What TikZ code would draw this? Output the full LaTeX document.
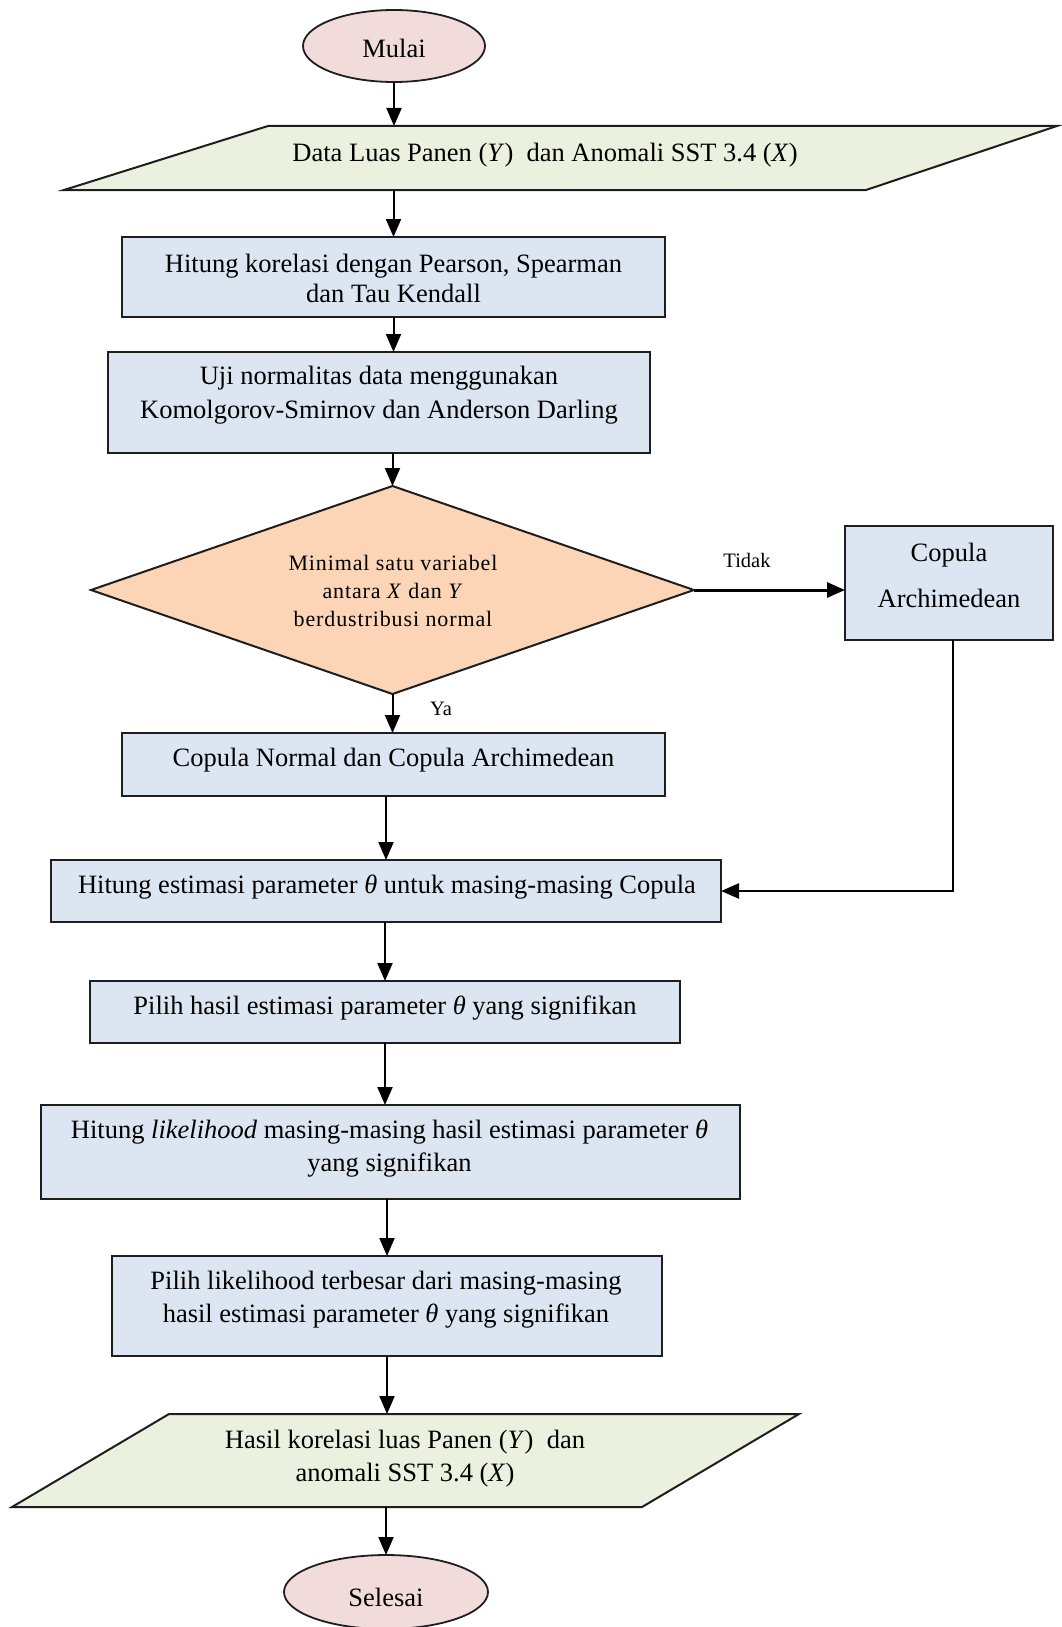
\documentclass[tikz,border=0pt]{standalone}
\usepackage{fontspec}
\setmainfont{Liberation Serif}
\newfontfamily\difont[LetterSpace=4]{Liberation Serif}
\usetikzlibrary{arrows.meta,shapes.geometric}

\definecolor{pinkfill}{HTML}{F2DCDB}
\definecolor{greenfill}{HTML}{EBF1DE}
\definecolor{bluefill}{HTML}{DCE6F2}
\definecolor{peachfill}{HTML}{FBD5B5}
\definecolor{edgec}{HTML}{1E1E1E}

\begin{document}
\begin{tikzpicture}[x=1pt,y=-1pt,
  every node/.style={inner sep=0pt, outer sep=0pt},
  box/.style={draw=edgec, line width=2pt, fill=bluefill, rectangle},
  term/.style={draw=edgec, line width=1.8pt, fill=pinkfill, ellipse},
  iobox/.style={draw=edgec, line width=2pt, fill=greenfill, line join=miter},
  decbox/.style={draw=edgec, line width=2pt, fill=peachfill, line join=miter},
  ghost/.style={rectangle, draw=none},
  txt/.style={font=\fontsize{26.5}{33}\selectfont, align=center},
  smalltxt/.style={font=\difont\fontsize{22}{28}\selectfont, align=center},
  lbl/.style={font=\fontsize{20.5}{24}\selectfont},
  arr/.style={draw=black, line width=2pt, -{Triangle[length=18pt,width=15pt]}},
]
\useasboundingbox (0,0) rectangle (1062,1627);

% start
\node[term, minimum width=182pt, minimum height=72pt] (start) at (394,46) {};
\node[txt] (tstart) at (394,48) {Mulai};

% input parallelogram
\node[ghost, minimum width=600pt, minimum height=64pt] (in1) at (560,158) {};
\draw[iobox] (268,126) -- (1057,126) -- (866,190) -- (64,190) -- cycle;
\node[txt] (tin1) at (545,155) {Data Luas Panen (\textit{Y})\ \ dan Anomali SST 3.4 (\textit{X})};

% korelasi
\node[box, minimum width=543pt, minimum height=80pt] (b1) at (393.5,277) {};
\node[txt, font=\fontsize{26.5}{30}\selectfont] (tb1) at (393.5,278) {Hitung korelasi dengan Pearson, Spearman\\dan Tau Kendall};

% uji normalitas
\node[box, minimum width=542pt, minimum height=101pt] (b2) at (379,402.5) {};
\node[txt, font=\fontsize{26.5}{34}\selectfont] (tb2) at (379,395) {Uji normalitas data menggunakan\\Komolgorov-Smirnov dan Anderson Darling};

% decision
\node[ghost, minimum width=603pt, minimum height=208pt] (dec) at (392.5,590) {};
\draw[decbox] (dec.north) -- (dec.east) -- (dec.south) -- (dec.west) -- cycle;
\node[smalltxt] (tdec) at (393,591) {Minimal satu variabel\\antara \textit{X} dan \textit{Y}\\berdustribusi normal};

% archimedean
\node[box, minimum width=208pt, minimum height=114pt] (arch) at (949,583) {};
\node[txt, font=\fontsize{26.5}{46}\selectfont] (tarch) at (949,575) {Copula\\Archimedean};

% labels
\node[lbl] (ltidak) at (747,560) {Tidak};
\node[lbl] (lya) at (441,709) {Ya};

% copula normal
\node[box, minimum width=543pt, minimum height=63pt] (b3) at (393.5,764.5) {};
\node[txt] (tb3) at (393.5,760) {Copula Normal dan Copula Archimedean};

% estimasi
\node[box, minimum width=670pt, minimum height=62pt] (b4) at (386,891) {};
\node[txt] (tb4) at (387,887) {Hitung estimasi parameter \textit{θ} untuk masing-masing Copula};

% pilih hasil
\node[box, minimum width=590pt, minimum height=62pt] (b5) at (385,1012) {};
\node[txt] (tb5) at (385,1008) {Pilih hasil estimasi parameter \textit{θ} yang signifikan};

% likelihood
\node[box, minimum width=699pt, minimum height=94pt] (b6) at (390.5,1152) {};
\node[txt] (tb6) at (389.5,1148.5) {Hitung \textit{likelihood} masing-masing hasil estimasi parameter \textit{θ}\\yang signifikan};

% pilih likelihood
\node[box, minimum width=550pt, minimum height=100pt] (b7) at (387,1306) {};
\node[txt] (tb7) at (386,1299.5) {Pilih likelihood terbesar dari masing-masing\\hasil estimasi parameter \textit{θ} yang signifikan};

% output parallelogram
\node[ghost, minimum width=400pt, minimum height=93pt] (in2) at (405,1460.5) {};
\draw[iobox] (169,1414) -- (799,1414) -- (642,1507) -- (12,1507) -- cycle;
\node[txt] (tin2) at (405,1458.5) {Hasil korelasi luas Panen (\textit{Y})\ \ dan\\anomali SST 3.4 (\textit{X})};

% end
\node[term, minimum width=204pt, minimum height=74pt] (stop) at (386,1592) {};
\node[txt] (tstop) at (386,1597) {Selesai};

% connectors
\draw[arr] (start.south) -- (start.south |- in1.north);
\draw[arr] (b1.north |- in1.south) -- (b1.north);
\draw[arr] (b1.south) -- (b1.south |- b2.north);
\draw[arr] (dec.north |- b2.south) -- (dec.north);
\draw[arr, line width=3pt] (dec.east) -- (dec.east -| arch.west);
\draw[arr] (dec.south) -- (dec.south |- b3.north);
\draw[arr] (b4.north |- b3.south) -- (b4.north);
\draw[line width=2.5pt, -{Triangle[length=18pt,width=15pt]}] ([xshift=4pt]arch.south) -- ([xshift=4pt]arch.south |- b4.east) -- (b4.east);
\draw[arr] (b5.north |- b4.south) -- (b5.north);
\draw[arr] (b5.south) -- (b5.south |- b6.north);
\draw[arr] (b7.north |- b6.south) -- (b7.north);
\draw[arr] (b7.south) -- (b7.south |- in2.north);
\draw[arr] (stop.north |- in2.south) -- (stop.north);
\end{tikzpicture}
\end{document}
